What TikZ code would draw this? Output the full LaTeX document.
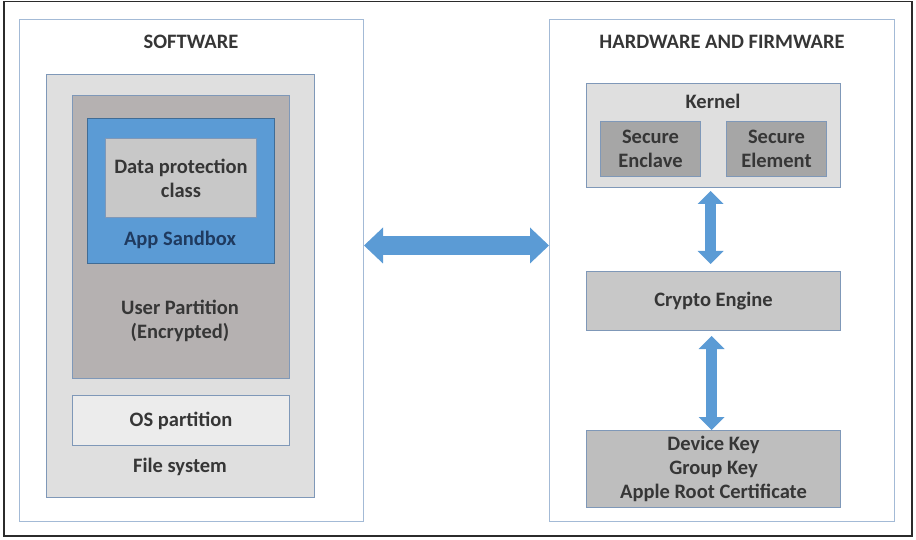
\documentclass[tikz,border=0pt]{standalone}
\usepackage{fontspec}
\setmainfont{Carlito}
\usetikzlibrary{positioning}
\usetikzlibrary{arrows.meta}

\definecolor{framegray}{HTML}{2B2B2B}
\definecolor{panelblue}{HTML}{A3BAD6}
\definecolor{edgeblue}{HTML}{7F98B8}
\definecolor{txtgray}{HTML}{363636}
\definecolor{navytxt}{HTML}{1F3A5F}
\definecolor{arrowblue}{HTML}{5B9BD5}
\definecolor{sandblue}{HTML}{5B9BD5}
\definecolor{lightgray}{HTML}{DFDFDF}
\definecolor{partgray}{HTML}{B5B1B1}
\definecolor{midgray}{HTML}{C8C8C8}
\definecolor{osgray}{HTML}{ECECEC}
\definecolor{darkgray}{HTML}{A6A6A6}
\definecolor{keygray}{HTML}{BEBEBE}

\begin{document}
\begin{tikzpicture}[
    x=1pt, y=-1pt,
    node distance=16pt and 25pt,
    panel/.style={draw=panelblue, fill=white, line width=1pt, inner sep=0pt, anchor=north west},
    box/.style={draw=edgeblue, line width=1pt, inner sep=0pt, align=center,
      text=txtgray, font=\bfseries\fontsize{20.5}{24}\selectfont},
    lbl/.style={text=txtgray, align=center, inner sep=0pt, font=\bfseries\fontsize{20.5}{24}\selectfont},
    fatarrow/.style={draw=arrowblue, line width=19pt,
      {Triangle[length=19pt,width=36pt,line width=0pt]}-{Triangle[length=19pt,width=36pt,line width=0pt]}},
    thinarrow/.style={draw=arrowblue, line width=11pt,
      {Triangle[length=13pt,width=26pt,line width=0pt]}-{Triangle[length=13pt,width=26pt,line width=0pt]}}
    ]

    \useasboundingbox (0,0) rectangle (916,540);
    \node[draw=framegray, line width=1.5pt, anchor=north west, inner sep=0pt,
      minimum width=908pt, minimum height=534pt] (frame) at (3,1) {};

    % software side
    \node[panel, minimum width=344pt, minimum height=502pt] (sw) at (19,19) {};
    \node[lbl] (swtitle) at (191,42) {SOFTWARE};
    \node[box, fill=lightgray, anchor=north west, minimum width=268pt, minimum height=423pt] (fs) at (46,74) {};
    \node[box, fill=partgray, anchor=north west, minimum width=217pt, minimum height=283pt] (up) at (72,95) {};
    \node[box, fill=sandblue, draw=sandblue!70!black, anchor=north west, minimum width=187pt, minimum height=145pt] (sb) at (87,118) {};
    \node[box, fill=midgray, anchor=north west, minimum width=151pt, minimum height=79pt] (dpc) at (105,138) {Data protection\\class};
    \node[lbl, text=navytxt] (sbtext) at (180,240) {App Sandbox};
    \node[lbl] (uptext) at (180,321) {User Partition\\(Encrypted)};
    \node[box, fill=osgray, minimum width=217pt, minimum height=50pt, below=16pt of up] (os) {OS partition};
    \node[lbl] (fstext) at (180,467) {File system};

    % hardware side
    \node[panel, minimum width=345pt, minimum height=502pt] (hw) at (549,19) {};
    \node[lbl] (hwtitle) at (722,42) {HARDWARE AND FIRMWARE};
    \node[box, fill=lightgray, anchor=north west, minimum width=254pt, minimum height=104pt] (kernel) at (586,83) {};
    \node[lbl] (kerneltext) at (713,101) {Kernel};
    \node[box, fill=darkgray, anchor=north west, minimum width=100pt, minimum height=55pt] (enclave) at (600,121) {Secure\\Enclave};
    \node[box, fill=darkgray, minimum width=100pt, minimum height=55pt, right=of enclave] (element) {Secure\\Element};
    \node[box, fill=midgray, minimum width=254pt, minimum height=59pt, below=83pt of kernel] (crypto) {Crypto Engine};
    \node[box, fill=keygray, minimum width=254pt, minimum height=77pt, below=99pt of crypto] (keys) {Device Key\\Group Key\\Apple Root Certificate};

    \draw[fatarrow] ([yshift=25pt]sw.east) -- ([yshift=25pt]hw.west);
    \draw[thinarrow, shorten <=3pt, shorten >=7pt] ([xshift=-3pt]kernel.south) -- ([xshift=-3pt]crypto.north);
    \draw[thinarrow, shorten <=5pt] ([xshift=-2pt]crypto.south) -- ([xshift=-2pt]keys.north);

  \end{tikzpicture}
\end{document}
